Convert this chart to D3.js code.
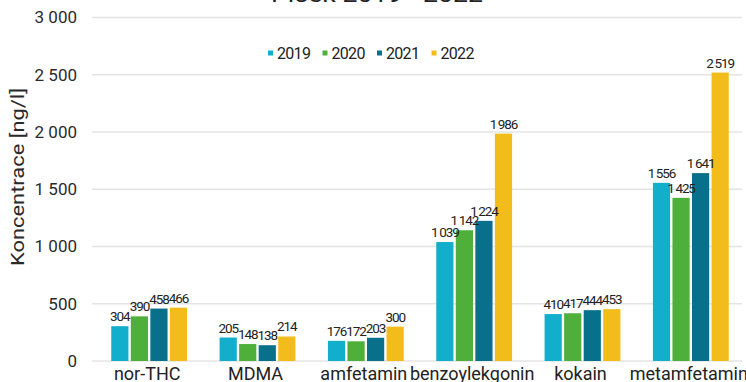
<!DOCTYPE html>
<html>
<head>
<meta charset="utf-8">
<script src="https://cdn.jsdelivr.net/npm/d3@7"></script>
<style>
  html, body { margin: 0; padding: 0; background: #fff; }
  svg { display: block; font-family: Roboto, "Noto Sans", sans-serif; }
</style>
</head>
<body>
<svg id="chart" width="746" height="382"></svg>
<script>
// Concentrations of drugs in waste water, ng/l
const categories = ["nor-THC", "MDMA", "amfetamin", "benzoylekgonin", "kokain", "metamfetamin"];
const years = ["2019", "2020", "2021", "2022"];
const values2019 = [304, 205, 176, 1039, 410, 1556];
const values2020 = [390, 148, 172, 1142, 417, 1425];
const values2021 = [458, 138, 203, 1224, 444, 1641];
const values2022 = [466, 214, 300, 1986, 453, 2519];
const yTicks = [0, 500, 1000, 1500, 2000, 2500, 3000];
const titleText = "Písek 2019 - 2022";
const yTitle = "Koncentrace [ng/l]";

const seriesValues = [values2019, values2020, values2021, values2022];
const colors = ["#13aecb", "#4faf3b", "#08708b", "#f2bd1b"];

const svg = d3.select("#chart");

const x = d3.scaleBand().domain(categories).range([95, 745]).paddingInner(0.3).paddingOuter(0.15);
const xi = d3.scaleBand().domain(years).range([0, x.bandwidth()]).paddingInner(0.12);
const y = d3.scaleLinear().domain([0, 3000]).range([361, 17.5]);
const color = d3.scaleOrdinal().domain(years).range(colors);

const fmt = v => d3.format(",")(v).replace(/,/g, "\u2009");
const fmtTick = v => d3.format(",")(v).replace(/,/g, " ");

// title (sits mostly above the visible area)
svg.append("text")
  .attr("x", 377).attr("y", 2)
  .attr("text-anchor", "middle")
  .attr("font-size", 22)
  .attr("textLength", 212).attr("lengthAdjust", "spacingAndGlyphs")
  .attr("fill", "#222")
  .text(titleText);

// gridlines
svg.append("g")
  .selectAll("line")
  .data(yTicks)
  .join("line")
  .attr("x1", 92).attr("x2", 742)
  .attr("y1", d => y(d)).attr("y2", d => y(d))
  .attr("stroke", "#e4e4e4")
  .attr("stroke-width", 1.5);

// y axis labels
const yAxis = svg.append("g")
  .attr("transform", "translate(77,0)")
  .call(d3.axisLeft(y).tickValues(yTicks).tickFormat(fmtTick).tickSize(0).tickPadding(0));
yAxis.select(".domain").remove();
yAxis.selectAll("text")
  .attr("font-size", 17)
  .attr("font-family", "Roboto, sans-serif")
  .attr("fill", "#2a2a2a");

// y axis title
svg.append("text")
  .attr("transform", "translate(24,177) rotate(-90)")
  .attr("text-anchor", "middle")
  .attr("font-size", 18)
  .attr("textLength", 178).attr("lengthAdjust", "spacingAndGlyphs")
  .attr("fill", "#2a2a2a")
  .text(yTitle);

// x axis labels
const xAxis = svg.append("g")
  .attr("transform", "translate(-2,366)")
  .call(d3.axisBottom(x).tickSize(0).tickPadding(0));
xAxis.select(".domain").remove();
xAxis.selectAll("text")
  .attr("font-size", 18)
  .attr("font-family", "Roboto, sans-serif")
  .attr("fill", "#222")
  .attr("dy", "0.78em");

// bars and value labels
const rows = [];
categories.forEach((c, ci) => {
  years.forEach((yr, yi) => rows.push({ cat: c, year: yr, value: seriesValues[yi][ci] }));
});

const groups = svg.append("g");
groups.selectAll("rect")
  .data(rows)
  .join("rect")
  .attr("x", d => x(d.cat) + xi(d.year))
  .attr("y", d => y(d.value))
  .attr("width", xi.bandwidth())
  .attr("height", d => y(0) - y(d.value))
  .attr("fill", d => color(d.year));

groups.selectAll("text")
  .data(rows)
  .join("text")
  .attr("x", d => x(d.cat) + xi(d.year) + xi.bandwidth() / 2)
  .attr("y", d => y(d.value) - 5)
  .attr("text-anchor", "middle")
  .attr("font-size", 13.5)
  .attr("letter-spacing", -1.1)
  .attr("fill", "#222")
  .text(d => fmt(d.value));

// legend
const legend = svg.append("g");
const legendX = d3.scaleBand().domain(years).range([268, 486]);
const item = legend.selectAll("g")
  .data(years)
  .join("g")
  .attr("transform", d => `translate(${legendX(d)},53)`);
item.append("rect")
  .attr("x", 0).attr("y", -2.5)
  .attr("width", 5).attr("height", 5)
  .attr("fill", d => color(d));
item.append("text")
  .attr("x", 9).attr("y", 6)
  .attr("font-size", 16)
  .attr("letter-spacing", -0.7)
  .attr("fill", "#222")
  .text(d => d);
</script>
</body>
</html>
